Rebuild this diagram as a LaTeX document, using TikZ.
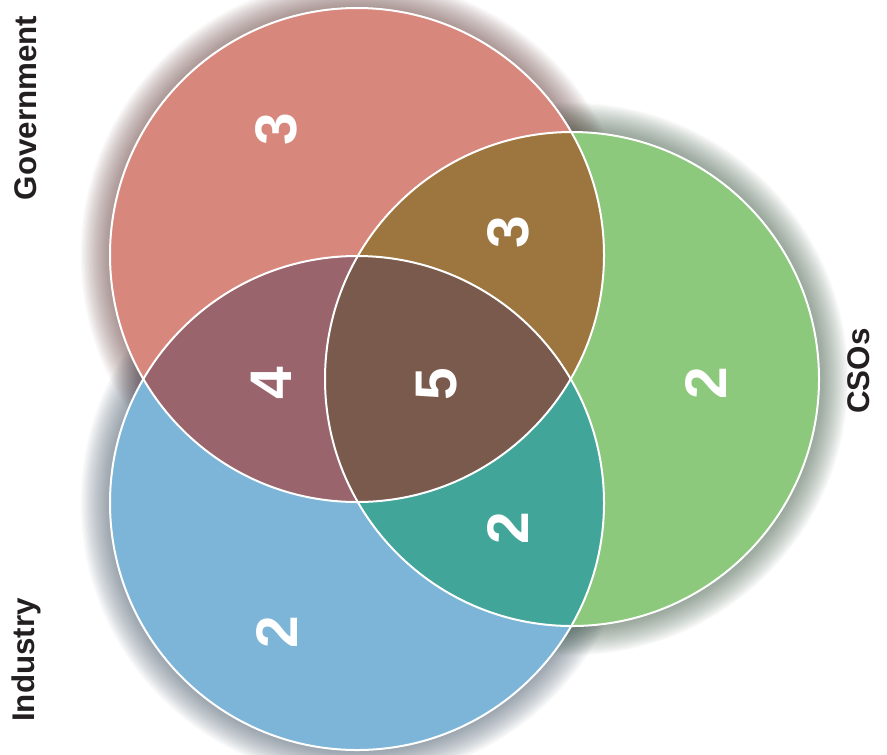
\documentclass[tikz,border=0pt]{standalone}
\usepackage{fontspec}
\setmainfont{Liberation Sans}
\definecolor{cred}{HTML}{D8877D}
\definecolor{cblue}{HTML}{7DB5D8}
\definecolor{cgreen}{HTML}{8CC97C}
\definecolor{crb}{HTML}{99646C}
\definecolor{crg}{HTML}{9D763F}
\definecolor{cbg}{HTML}{42A59A}
\definecolor{cctr}{HTML}{7A5A4C}
\definecolor{ctext}{HTML}{231F20}
\definecolor{sred}{HTML}{5A3330}
\definecolor{sblue}{HTML}{3A4C5E}
\definecolor{sgreen}{HTML}{34503A}
\tikzset{
  setlabel/.style={font=\bfseries\fontsize{23.5}{26}\selectfont, text=ctext, rotate=90, inner sep=0pt},
  numlabel/.style={font=\bfseries\fontsize{44}{48}\selectfont, text=white, rotate=90, inner sep=0pt},
  rim/.style={draw=white, line width=1.5pt},
  glowring/.style={fill=#1, fill opacity=0.03}
}
\begin{document}
\begin{tikzpicture}[x=0.75pt,y=-0.75pt]
\useasboundingbox (0,0) rectangle (887,754);
\coordinate (R) at (357,255);
\coordinate (B) at (357,503);
\coordinate (G) at (572,379);
\def\rr{185.25}
% soft glow round each circle
\foreach \k in {0,...,22}{
  \fill[glowring=sred] (R) circle[radius={(\rr+\k*1.0)*1pt}];
  \fill[glowring=sblue] (B) circle[radius={(\rr+\k*1.0)*1pt}];
  \fill[glowring=sgreen] (G) circle[radius={(\rr+\k*1.0)*1pt}];
}
% base fills
\fill[cred] (R) circle[radius=\rr pt];
\fill[cblue] (B) circle[radius=\rr pt];
\fill[cgreen] (G) circle[radius=\rr pt];
% pairwise overlaps
\begin{scope}
  \clip (R) circle[radius=\rr pt];
  \fill[crb] (B) circle[radius=\rr pt];
  \fill[crg] (G) circle[radius=\rr pt];
\end{scope}
\begin{scope}
  \clip (B) circle[radius=\rr pt];
  \fill[cbg] (G) circle[radius=\rr pt];
\end{scope}
\begin{scope}
  \clip (R) circle[radius=\rr pt];
  \clip (B) circle[radius=\rr pt];
  \fill[cctr] (G) circle[radius=\rr pt];
\end{scope}
% outlines
\draw[rim] (R) circle[radius=\rr pt];
\draw[rim] (B) circle[radius=\rr pt];
\draw[rim] (G) circle[radius=\rr pt];
% numbers
\node[numlabel] (n1) at (276,129) {3};
\node[numlabel] (n2) at (508,232) {3};
\node[numlabel] (n3) at (271,383) {4};
\node[numlabel] (n4) at (437,384) {5};
\node[numlabel] (n5) at (706,383) {2};
\node[numlabel] (n6) at (508,528) {2};
\node[numlabel] (n7) at (277,632) {2};
% set labels
\node[setlabel] (gov) at (26,108) {Government};
\node[setlabel] (ind) at (26,660) {Industry};
\node[setlabel] (cso) at (859,371) {CSOs};
\end{tikzpicture}
\end{document}
